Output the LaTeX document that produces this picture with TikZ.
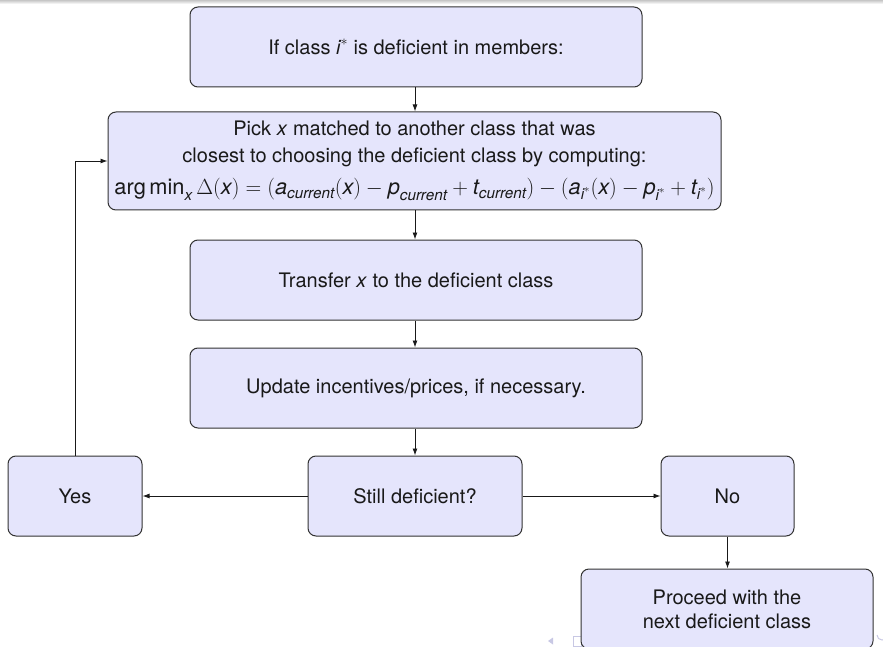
\RequirePackage{fix-cm}
\documentclass[tikz,border=0pt]{standalone}
\usepackage{amsmath}
\usepackage{fontspec}
\setmainfont{TeX Gyre Heros}
\usetikzlibrary{arrows.meta}
\definecolor{boxfill}{RGB}{229,229,252}
\definecolor{boxline}{RGB}{50,50,50}
\definecolor{navcol}{RGB}{200,200,228}
\newcommand{\mi}[1]{\textit{#1}}
\tikzset{
  x=1pt, y=-1pt,
  fbox/.style={draw=boxline, line width=1pt, fill=boxfill, rounded corners=8pt,
    align=center, inner sep=0pt, font=\fontsize{20}{24}\selectfont, text=black!90},
  arr/.style={-{Latex[length=7pt,width=5pt]}, line width=0.9pt, draw=black!90},
}
\begin{document}
\begin{tikzpicture}
\useasboundingbox (0,0) rectangle (883,647);
\fill[top color=gray!45, bottom color=white] (0,0) rectangle (883,4);
% navigation symbols (partly hidden)
\fill[navcol] (548,641) -- (553,637.5) -- (553,644.5) -- cycle;
\draw[navcol, line width=1pt] (573,636) rectangle (581,646);
\draw[navcol, line width=1pt] (877,635) arc[start angle=180, end angle=300, radius=5pt];

\node[fbox, minimum width=452pt, minimum height=80pt] (b1) at (416,47)
  {If class $\mi{i}^{*}$ is deficient in members:};
\node[fbox, minimum width=613pt, minimum height=98pt,
      font=\fontsize{20}{26.5}\selectfont] (b2) at (414.5,161)
  {Pick \mi{x} matched to another class that was\\
   closest to choosing the deficient class by computing:\\[6pt]
   {\fontsize{21.8}{26}\selectfont
   $\text{arg\,min}_{\mi{x}}\,\Delta(\mi{x}) = (\mi{a}_{\mi{current}}(\mi{x}) - \mi{p}_{\mi{current}} + \mi{t}_{\mi{current}}) - (\mi{a}_{\mi{i}^{*}}(\mi{x}) - \mi{p}_{\mi{i}^{*}} + \mi{t}_{\mi{i}^{*}})$}};
\node[fbox, minimum width=452pt, minimum height=80pt] (b3) at (416,280)
  {Transfer \mi{x} to the deficient class};
\node[fbox, minimum width=452pt, minimum height=80pt] (b4) at (416,388)
  {Update incentives/prices, if necessary.};
\node[fbox, minimum width=214pt, minimum height=80pt] (still) at (415,496)
  {Still deficient?};
\node[fbox, minimum width=134pt, minimum height=80pt] (yes) at (75,496) {Yes};
\node[fbox, minimum width=133pt, minimum height=80pt] (no) at (727.5,496) {No};
\node[fbox, minimum width=292pt, minimum height=80pt] (proc) at (727,609)
  {Proceed with the\\next deficient class};

\draw[arr] (b1.south -| still.center) -- (b2.north -| still.center);
\draw[arr] (b2.south -| still.center) -- (b3.north -| still.center);
\draw[arr] (b3.south -| still.center) -- (b4.north -| still.center);
\draw[arr] (b4.south -| still.center) -- (still.north);
\draw[arr] (still.west) -- (yes.east);
\draw[arr] (still.east) -- (no.west);
\draw[arr] (no.south) -- (proc.north -| no.south);
\draw[arr] (yes.north) |- (b2.west);
\end{tikzpicture}
\end{document}
